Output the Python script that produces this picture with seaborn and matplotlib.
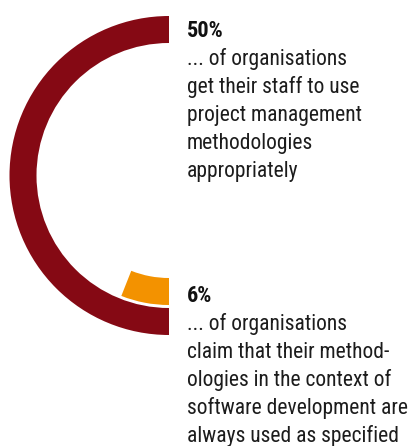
import matplotlib
matplotlib.use("Agg")
import matplotlib.pyplot as plt
import seaborn as sns

# Shares shown as rings
share_labels = ["50%", "6%"]
share_values = [50, 6]
ring_colors = ["#850914", "#f39200"]

# Descriptive text next to each ring
captions = [
    ["... of organisations", "get their staff to use", "project management",
     "methodologies", "appropriately"],
    ["... of organisations", "claim that their method-", "ologies in the context of",
     "software development are", "always used as specified"],
]

sns.set_theme(style="white")
plt.rcParams["font.family"] = ["Roboto Condensed", "DejaVu Sans"]

W, H = 411, 446
fig = plt.figure(figsize=(W / 100, H / 100), dpi=100)
ax = fig.add_axes([0, 0, 1, 1])

cx, cy = 169, H - 175.5

# Outer ring: 50 %, drawn counter-clockwise from 12 o'clock
ax.pie([share_values[0], 100 - share_values[0]], radius=159.5, center=(cx, cy),
       startangle=90, counterclock=True, colors=[ring_colors[0], "none"],
       wedgeprops=dict(width=27, edgecolor="none", linewidth=0))

# Inner ring: 6 %, drawn clockwise from 6 o'clock
ax.pie([share_values[1], 100 - share_values[1]], radius=129.5, center=(cx, cy),
       startangle=270, counterclock=False, colors=[ring_colors[1], "none"],
       wedgeprops=dict(width=27, edgecolor="none", linewidth=0))

ax.set_xlim(0, W)
ax.set_ylim(0, H)
ax.set_aspect("equal")
ax.axis("off")

text_color = "#1c1c1c"
tx = 187
pitch = 28
blocks = [(36.7, 0), (302, 1)]
for base_y, i in blocks:
    ax.text(tx, H - base_y, share_labels[i], fontsize=16, fontweight="bold",
            color="#111111", va="baseline", ha="left")
    for k, line in enumerate(captions[i]):
        ax.text(tx, H - (base_y + pitch * (k + 1)), line, fontsize=15.5,
                color=text_color, va="baseline", ha="left")

fig.savefig("out.png", dpi=100)
